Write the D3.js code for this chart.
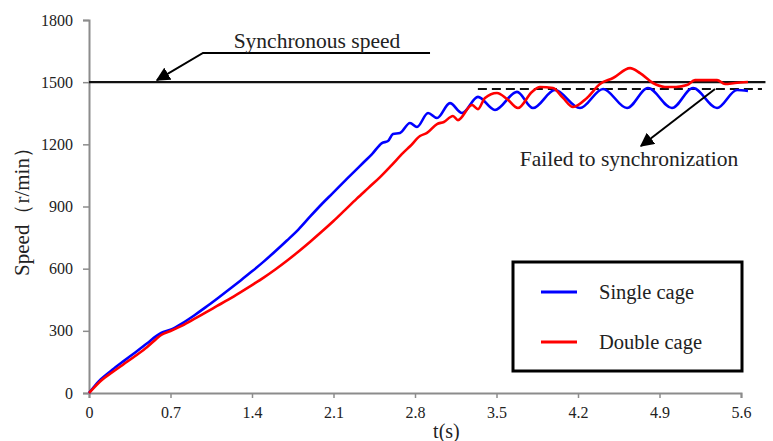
<!DOCTYPE html>
<html>
<head>
<meta charset="utf-8">
<script src="https://cdn.jsdelivr.net/npm/d3@7/dist/d3.min.js"></script>
<style>
  html, body { margin: 0; padding: 0; background: #fff; }
  svg { display: block; font-family: "Liberation Serif", "Times New Roman", serif; }
</style>
</head>
<body>
<svg id="chart" width="773" height="441"></svg>
<script>
// ---- data ----
const xTicks = [0, 0.7, 1.4, 2.1, 2.8, 3.5, 4.2, 4.9, 5.6];
const yTicks = [0, 300, 600, 900, 1200, 1500, 1800];
const seriesNames = ["Single cage", "Double cage"];

const singleT = [0, 0.05, 0.1, 0.2, 0.3, 0.4, 0.5, 0.58, 0.62, 0.7, 0.8, 0.9, 1.0, 1.1, 1.2, 1.3, 1.4, 1.5, 1.6, 1.7, 1.8, 1.9, 2.0, 2.1, 2.2, 2.3, 2.353, 2.431, 2.516, 2.568, 2.611, 2.671, 2.757, 2.817, 2.912, 2.989, 3.100, 3.204, 3.341, 3.487, 3.676, 3.813, 4.002, 4.217, 4.415, 4.621, 4.801, 5.007, 5.188, 5.394, 5.566, 5.660];
const singleV = [0, 35, 65, 112, 155, 197, 240, 276, 290, 305, 336, 373, 413, 455, 498, 542, 587, 634, 684, 736, 790, 852, 912, 968, 1025, 1080, 1110, 1153, 1206, 1216, 1250, 1255, 1303, 1284, 1351, 1327, 1399, 1351, 1429, 1366, 1453, 1375, 1462, 1375, 1467, 1375, 1472, 1375, 1472, 1375, 1462, 1458];

const doubleT = [0, 0.05, 0.1, 0.2, 0.3, 0.4, 0.5, 0.58, 0.62, 0.7, 0.8, 0.9, 1.0, 1.1, 1.2, 1.3, 1.4, 1.5, 1.6, 1.7, 1.8, 1.9, 2.0, 2.1, 2.2, 2.3, 2.4, 2.5, 2.6, 2.7, 2.76, 2.843, 2.903, 2.989, 3.048, 3.126, 3.169, 3.290, 3.341, 3.401, 3.504, 3.590, 3.684, 3.804, 3.873, 3.985, 4.071, 4.157, 4.277, 4.389, 4.501, 4.647, 4.733, 4.844, 4.947, 5.042, 5.136, 5.205, 5.291, 5.394, 5.463, 5.548, 5.660];
const doubleV = [0, 30, 58, 100, 140, 180, 222, 262, 280, 299, 325, 356, 388, 420, 452, 486, 521, 557, 596, 638, 683, 730, 779, 830, 884, 938, 990, 1042, 1100, 1160, 1192, 1240, 1255, 1298, 1308, 1337, 1317, 1390, 1370, 1424, 1448, 1419, 1375, 1453, 1477, 1472, 1424, 1380, 1424, 1491, 1520, 1568, 1544, 1496, 1477, 1477, 1486, 1510, 1510, 1510, 1491, 1496, 1501];

const syncSpeed = 1500;
const syncLineEnd = 5.81;
const failLevel = 1467;
const failRange = [3.34, 5.78];

// ---- layout ----
const svg = d3.select("#chart");
const x = d3.scaleLinear().domain([0, 5.6]).range([89, 741]);
const y = d3.scaleLinear().domain([0, 1800]).range([393, 20]);
const axisColor = "#8c8c8c";

// axes
const gx = svg.append("g").attr("transform", `translate(0,${y(0)})`)
  .call(d3.axisBottom(x).tickValues(xTicks).tickFormat(d => d === 0 ? "0" : d3.format(".1f")(d)).tickSizeOuter(0).tickSize(5).tickPadding(9));
const gy = svg.append("g").attr("transform", `translate(${x(0)},0)`)
  .call(d3.axisLeft(y).tickValues(yTicks).tickFormat(d3.format("d")).tickSizeOuter(0).tickSize(6).tickPadding(10));
[gx, gy].forEach(g => {
  g.select(".domain").attr("stroke", axisColor).attr("stroke-width", 2);
  g.selectAll(".tick line").attr("stroke", axisColor).attr("stroke-width", 1.5);
  g.selectAll(".tick text").attr("fill", "#222").attr("font-size", 16)
    .attr("font-family", "'Liberation Serif', 'Times New Roman', serif");
});

// axis titles
svg.append("text").attr("x", x(3.07)).attr("y", 438).attr("text-anchor", "middle")
  .attr("font-size", 20).attr("fill", "#222").text("t(s)");
svg.append("text").attr("transform", `translate(29,${y(900)}) rotate(-90)`).attr("text-anchor", "middle")
  .attr("font-size", 21).attr("fill", "#222").text("Speed（r/min）");

// synchronous and failed lines
svg.append("line").attr("x1", x(0)).attr("x2", x(syncLineEnd)).attr("y1", y(syncSpeed)).attr("y2", y(syncSpeed))
  .attr("stroke", "#111").attr("stroke-width", 2.2);
svg.append("line").attr("x1", x(failRange[0])).attr("x2", x(failRange[1])).attr("y1", y(failLevel)).attr("y2", y(failLevel))
  .attr("stroke", "#111").attr("stroke-width", 2.2).attr("stroke-dasharray", "9,5");

// curves
const line = d3.line().x(d => x(d[0])).y(d => y(d[1])).curve(d3.curveMonotoneX);
const singleData = singleT.map((t, i) => [t, singleV[i]]);
const doubleData = doubleT.map((t, i) => [t, doubleV[i]]);
svg.append("path").datum(singleData).attr("d", line).attr("fill", "none").attr("stroke", "#0000ff").attr("stroke-width", 2.6);
svg.append("path").datum(doubleData).attr("d", line).attr("fill", "none").attr("stroke", "#ff0000").attr("stroke-width", 2.6);

// arrow marker
const defs = svg.append("defs");
defs.append("marker").attr("id", "arrow").attr("viewBox", "0 0 10 10").attr("refX", 9).attr("refY", 5)
  .attr("markerWidth", 7).attr("markerHeight", 7).attr("orient", "auto-start-reverse")
  .append("path").attr("d", "M0,0 L10,5 L0,10 z").attr("fill", "#000");

// synchronous speed annotation
const syncPts = [[2.929, 1641], [0.979, 1641], [0.584, 1510]];
svg.append("path").attr("d", d3.line().x(d => x(d[0])).y(d => y(d[1]))(syncPts))
  .attr("fill", "none").attr("stroke", "#000").attr("stroke-width", 2).attr("marker-end", "url(#arrow)");
svg.append("text").attr("x", x(1.958)).attr("y", y(1665)).attr("text-anchor", "middle")
  .attr("font-size", 21.5).attr("fill", "#222").text("Synchronous speed");

// failed annotation
const failPts = [[5.377, 1467], [4.741, 1192]];
svg.append("path").attr("d", d3.line().x(d => x(d[0])).y(d => y(d[1]))(failPts))
  .attr("fill", "none").attr("stroke", "#000").attr("stroke-width", 2).attr("marker-end", "url(#arrow)");
svg.append("text").attr("x", x(4.638)).attr("y", y(1095)).attr("text-anchor", "middle")
  .attr("font-size", 21.5).attr("fill", "#222").text("Failed to synchronization");

// legend
const lg = svg.append("g").attr("transform", "translate(513,262)");
lg.append("rect").attr("width", 229).attr("height", 109).attr("fill", "#fff").attr("stroke", "#000").attr("stroke-width", 3);
const colors = ["#0000ff", "#ff0000"];
seriesNames.forEach((name, i) => {
  const yy = 30 + i * 50;
  lg.append("line").attr("x1", 28).attr("x2", 64).attr("y1", yy).attr("y2", yy).attr("stroke", colors[i]).attr("stroke-width", 3);
  lg.append("text").attr("x", 86).attr("y", yy).attr("dy", "0.35em").attr("font-size", 20.5).attr("fill", "#222").text(name);
});
</script>
</body>
</html>
